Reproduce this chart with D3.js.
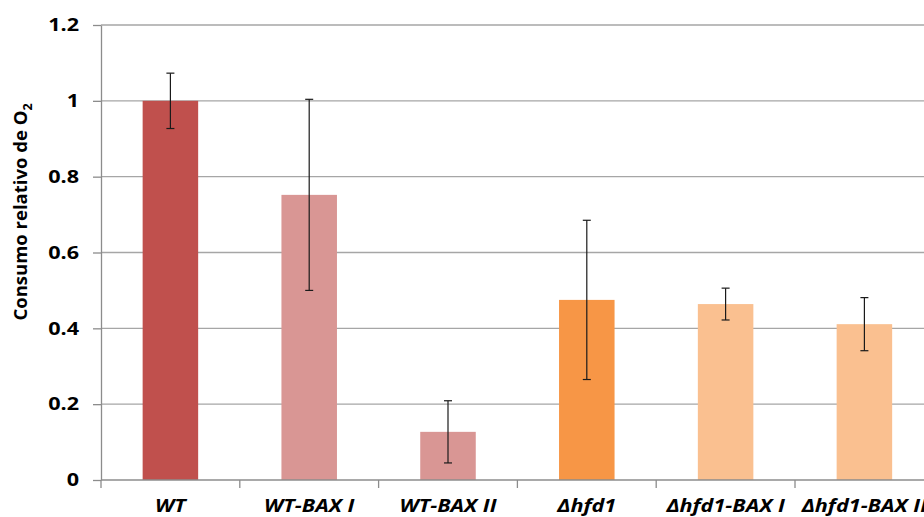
<!DOCTYPE html>
<html>
<head>
<meta charset="utf-8">
<script src="https://cdnjs.cloudflare.com/ajax/libs/d3/7.8.5/d3.min.js"></script>
<style>
  body { margin: 0; background: #fff; overflow: hidden; }
  svg { display: block; }
  .tick text { font-family: "Open Sans", sans-serif; font-weight: bold; }
</style>
</head>
<body>
<script>
// data
var categories = ["WT", "WT-BAX I", "WT-BAX II", "\u0394hfd1", "\u0394hfd1-BAX I", "\u0394hfd1-BAX II"];
var values = [1.0, 0.752, 0.127, 0.475, 0.464, 0.411];
var errors = [0.073, 0.252, 0.082, 0.21, 0.042, 0.07];
var barColors = ["#C0504D", "#D99694", "#D99694", "#F79646", "#FAC090", "#FAC090"];
var yTicks = [0, 0.2, 0.4, 0.6, 0.8, 1, 1.2];

var width = 924, height = 517;
var plotLeft = 101, plotTop = 25, plotBottom = 480;
var bandW = 138.8;
var stretch = 1.2; // source picture is a bit wider than tall

var svg = d3.select("body").append("svg")
  .attr("width", width)
  .attr("height", height);

var x = d3.scaleBand()
  .domain(categories)
  .range([plotLeft, plotLeft + bandW * categories.length])
  .paddingInner(0.6)
  .paddingOuter(0.3);

var y = d3.scaleLinear()
  .domain([0, 1.2])
  .range([plotBottom, plotTop]);

// gridlines
svg.append("g")
  .selectAll("line")
  .data(yTicks.slice(1))
  .enter()
  .append("line")
  .attr("x1", plotLeft)
  .attr("x2", width)
  .attr("y1", d => y(d))
  .attr("y2", d => y(d))
  .attr("stroke", "#a6a6a6")
  .attr("stroke-width", 1.3);

// bars
svg.append("g")
  .selectAll("rect")
  .data(values)
  .enter()
  .append("rect")
  .attr("x", (d, i) => x(categories[i]))
  .attr("y", d => y(d))
  .attr("width", x.bandwidth())
  .attr("height", d => plotBottom - y(d))
  .attr("fill", (d, i) => barColors[i]);

// error bars
var eb = svg.append("g")
  .selectAll("g")
  .data(values)
  .enter()
  .append("g")
  .attr("stroke", "#1a1a1a")
  .attr("stroke-width", 1.2);

eb.append("line")
  .attr("x1", (d, i) => x(categories[i]) + x.bandwidth() / 2)
  .attr("x2", (d, i) => x(categories[i]) + x.bandwidth() / 2)
  .attr("y1", (d, i) => y(d + errors[i]))
  .attr("y2", (d, i) => y(d - errors[i]));

[1, -1].forEach(function (s) {
  eb.append("line")
    .attr("x1", (d, i) => x(categories[i]) + x.bandwidth() / 2 - 4)
    .attr("x2", (d, i) => x(categories[i]) + x.bandwidth() / 2 + 4)
    .attr("y1", (d, i) => y(d + s * errors[i]))
    .attr("y2", (d, i) => y(d + s * errors[i]));
});

// y axis
var yAxis = svg.append("g")
  .attr("transform", "translate(" + plotLeft + ",0)")
  .call(d3.axisLeft(y).tickValues(yTicks).tickSize(8).tickSizeOuter(0)
    .tickFormat(d => d3.format("")(+d.toFixed(1))));
yAxis.selectAll("line, path").attr("stroke", "#8c8c8c").attr("stroke-width", 1.3);
yAxis.selectAll("text")
  .attr("font-size", 18).attr("fill", "#000").attr("x", 0)
  .attr("transform", "translate(-22,0) scale(" + stretch + ",1)");

// x axis
var xLine = svg.append("g")
  .attr("transform", "translate(0," + plotBottom + ")");
xLine.append("line")
  .attr("x1", plotLeft).attr("x2", width)
  .attr("stroke", "#8c8c8c").attr("stroke-width", 1.3);
xLine.selectAll(".xt")
  .data(d3.range(categories.length + 1))
  .enter()
  .append("line")
  .attr("class", "xt")
  .attr("x1", i => plotLeft + i * bandW)
  .attr("x2", i => plotLeft + i * bandW)
  .attr("y1", 0).attr("y2", 8)
  .attr("stroke", "#8c8c8c").attr("stroke-width", 1.3);

xLine.selectAll(".xl")
  .data(categories)
  .enter()
  .append("text")
  .attr("class", "xl")
  .attr("transform", d => "translate(" + (x(d) + x.bandwidth() / 2) + ",32) scale(" + stretch + ",1)")
  .attr("text-anchor", "middle")
  .style("font-family", "'Open Sans', sans-serif")
  .style("font-weight", "bold")
  .style("font-style", "italic")
  .style("font-size", "18px")
  .text(d => d);

// y title
var title = svg.append("text")
  .attr("transform", "translate(27," + 212 + ") rotate(-90)")
  .attr("text-anchor", "middle")
  .style("font-family", "'Open Sans', sans-serif")
  .style("font-weight", "bold")
  .style("font-size", "18.5px");
title.append("tspan").text("Consumo relativo de O");
title.append("tspan").attr("dy", 5).style("font-size", "12.5px").text("2");
</script>
</body>
</html>
